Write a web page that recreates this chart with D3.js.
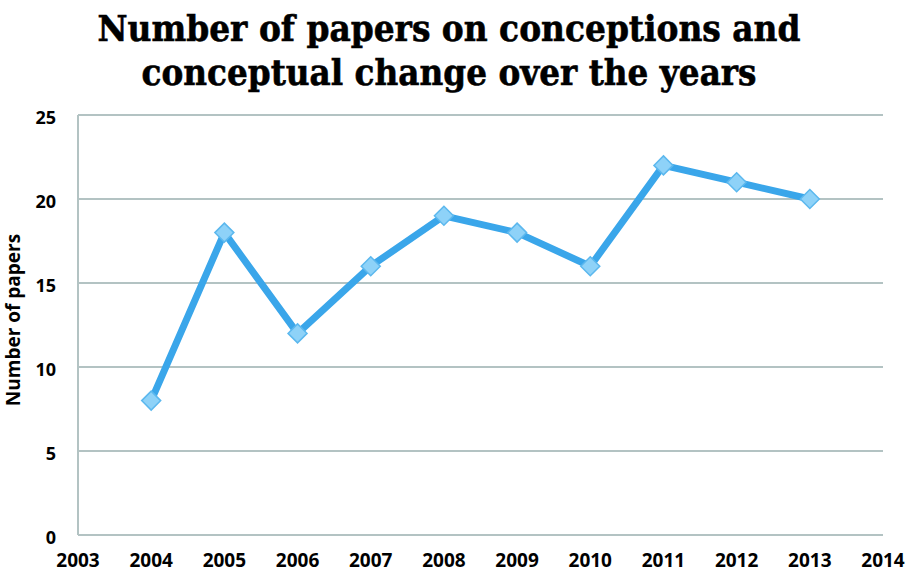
<!DOCTYPE html>
<html>
<head>
<meta charset="utf-8">
<script src="https://cdn.jsdelivr.net/npm/d3@7"></script>
<style>
  body { margin: 0; background: #fff; }
</style>
</head>
<body>
<div id="chart"></div>
<script>
// Data
const years = [2004, 2005, 2006, 2007, 2008, 2009, 2010, 2011, 2012, 2013];
const papers = [8, 18, 12, 16, 19, 18, 16, 22, 21, 20];
const xTicks = [2003, 2004, 2005, 2006, 2007, 2008, 2009, 2010, 2011, 2012, 2013, 2014];
const yTicks = [0, 5, 10, 15, 20, 25];
const titleLines = ["Number of papers on conceptions and", "conceptual change over the years"];

const width = 910, height = 576;
const svg = d3.select("#chart")
  .append("svg")
    .attr("width", width)
    .attr("height", height);

const x = d3.scaleLinear().domain([2003, 2014]).range([78, 883]);
const y = d3.scaleLinear().domain([0, 25]).range([535, 115]);

const gridColor = "#b3c3c3";
const lineColor = "#3aa6ea";

// Title
svg.selectAll(".title")
  .data(titleLines)
  .join("text")
    .attr("class", "title")
    .attr("x", 449)
    .attr("y", (d, i) => 41 + i * 44)
    .attr("text-anchor", "middle")
    .attr("textLength", (d, i) => i === 0 ? 703 : 615)
    .attr("lengthAdjust", "spacingAndGlyphs")
    .style("font-family", "'DejaVu Serif', serif")
    .style("font-weight", "bold")
    .style("font-size", "35px")
    .style("stroke", "#000")
    .style("stroke-width", 0.6)
    .text(d => d);

// Horizontal gridlines
svg.selectAll(".grid")
  .data(yTicks)
  .join("line")
    .attr("x1", x(2003))
    .attr("x2", x(2014))
    .attr("y1", d => y(d))
    .attr("y2", d => y(d))
    .attr("stroke", gridColor)
    .attr("stroke-width", 2);

// Left axis line
svg.append("line")
  .attr("x1", x(2003))
  .attr("x2", x(2003))
  .attr("y1", y(25))
  .attr("y2", y(0))
  .attr("stroke", gridColor)
  .attr("stroke-width", 2);

// Y tick labels
svg.selectAll(".ylab")
  .data(yTicks)
  .join("text")
    .attr("x", 56)
    .attr("y", d => y(d) + 9)
    .attr("text-anchor", "end")
    .style("font-family", "'Open Sans', sans-serif")
    .style("font-weight", "bold")
    .style("font-size", "18px")
    .text(d => d);

// X tick labels
svg.selectAll(".xlab")
  .data(xTicks)
  .join("text")
    .attr("x", d => x(d))
    .attr("y", 567)
    .attr("text-anchor", "middle")
    .style("font-family", "'Open Sans', sans-serif")
    .style("font-weight", "bold")
    .style("font-size", "19px")
    .text(d => d);

// Y axis title
svg.append("text")
  .attr("transform", "translate(20, 320) rotate(-90)")
  .attr("text-anchor", "middle")
  .style("font-family", "'Open Sans', sans-serif")
  .style("font-weight", "bold")
  .style("font-size", "19px")
  .text("Number of papers");

// Line
const pts = years.map((yr, i) => [yr, papers[i]]);
svg.append("path")
  .datum(pts)
  .attr("fill", "none")
  .attr("stroke", lineColor)
  .attr("stroke-width", 7)
  .attr("stroke-linejoin", "round")
  .attr("d", d3.line().x(d => x(d[0])).y(d => y(d[1])));

// Diamond markers
svg.selectAll(".marker")
  .data(pts)
  .join("path")
    .attr("transform", d => `translate(${x(d[0])}, ${y(d[1])})`)
    .attr("d", d3.symbol().type(d3.symbolDiamond2).size(230))
    .attr("fill", "#8ed2f8")
    .attr("stroke", "#5cb8ee")
    .attr("stroke-width", 1.5);
</script>
</body>
</html>
